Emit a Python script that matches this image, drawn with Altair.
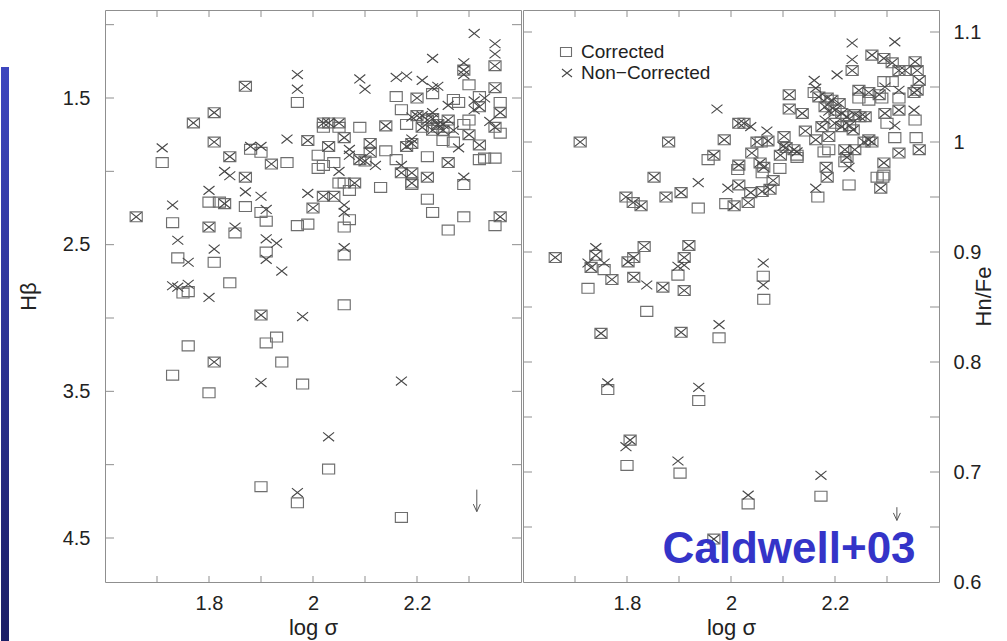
import altair as alt
import pandas as pd

# ---------------- values ----------------
# Left panel: H-beta index vs log sigma  (pairs: log_sigma, value)
hb_both = [
    (2.35, 1.28), (2.29, 1.31), (1.87, 1.42), (1.81, 1.60), (1.77, 1.67), (1.81, 1.80),
    (1.84, 1.90), (1.92, 1.95), (1.99, 1.79), (1.87, 2.04), (1.83, 2.22), (1.66, 2.31),
    (1.80, 2.38), (1.90, 2.98), (1.81, 3.30),
    (2.02, 1.67), (2.03, 1.67), (2.05, 1.67), (2.06, 1.77), (2.03, 1.83), (2.11, 1.81),
    (2.11, 1.87), (2.10, 1.93), (2.09, 1.92), (2.08, 2.08), (2.02, 2.17), (2.04, 2.17), (2.00, 2.25),
    (2.20, 1.50), (2.14, 1.69), (2.18, 1.83), (2.19, 1.81), (2.17, 2.01), (2.19, 2.01),
    (2.22, 2.04), (2.19, 2.08), (2.26, 1.94), (2.32, 1.82), (2.30, 1.75), (2.36, 1.60),
    (2.35, 1.70), (2.32, 1.56), (2.35, 1.43), (2.36, 2.31),
    (2.20, 1.62), (2.22, 1.65), (2.23, 1.64), (2.24, 1.68), (2.25, 1.72), (2.23, 1.72),
    (2.21, 1.70), (2.26, 1.65),
]
hb_corrected_only = [
    (1.97, 1.53), (1.71, 1.94), (1.88, 1.85), (1.90, 1.87), (1.95, 1.94), (1.80, 2.21),
    (1.82, 2.21), (1.87, 2.24), (1.90, 2.28), (1.73, 2.35), (1.91, 2.34), (1.85, 2.42),
    (1.74, 2.59), (1.81, 2.62), (1.91, 2.55), (1.84, 2.76), (1.75, 2.83), (1.76, 2.82),
    (2.02, 1.70), (2.05, 1.70), (2.09, 1.70), (2.01, 1.89), (2.02, 1.96), (2.01, 1.98),
    (2.14, 1.86), (2.04, 1.94), (2.05, 2.08), (2.06, 2.08), (2.07, 2.13), (2.13, 2.11),
    (2.07, 2.33), (2.06, 2.38), (1.97, 2.37), (1.99, 2.36), (2.06, 2.57), (2.06, 2.91),
    (2.16, 1.49), (2.23, 1.47), (2.17, 1.58), (2.18, 1.68), (2.16, 1.92), (2.19, 2.09),
    (2.22, 2.19), (2.23, 2.28), (2.26, 2.40), (2.29, 2.31), (2.29, 2.09), (2.22, 1.90),
    (2.32, 1.92), (2.33, 1.91), (2.35, 1.91), (2.29, 1.68), (2.30, 1.65), (2.36, 1.74),
    (2.36, 1.53), (2.30, 1.41), (2.32, 1.49), (2.27, 1.51), (2.28, 1.53), (2.35, 2.37),
    (2.25, 1.79), (2.27, 1.80), (2.24, 1.70), (2.26, 1.70),
    (1.76, 3.19), (1.91, 3.17), (1.93, 3.13), (1.94, 3.30), (1.73, 3.39), (1.98, 3.45),
    (1.80, 3.51), (2.03, 4.03), (1.90, 4.15), (1.97, 4.26), (2.17, 4.36),
]
hb_noncorrected_only = [
    (2.31, 1.06), (2.35, 1.13), (2.35, 1.20), (2.23, 1.23), (2.29, 1.26), (2.29, 1.34),
    (1.97, 1.34), (1.97, 1.44), (1.71, 1.84), (1.88, 1.83), (1.90, 1.83), (1.95, 1.78),
    (1.83, 2.00), (1.84, 2.03), (1.80, 2.13), (1.87, 2.14), (1.90, 2.17), (1.73, 2.23),
    (1.91, 2.26), (1.85, 2.38), (1.74, 2.47), (1.91, 2.46), (1.93, 2.49), (1.76, 2.62),
    (1.81, 2.53), (1.91, 2.60), (1.94, 2.68), (1.73, 2.78), (1.74, 2.79), (1.76, 2.77),
    (1.80, 2.86), (1.98, 2.99),
    (2.09, 1.37), (2.10, 1.44), (2.16, 1.36), (2.18, 1.35), (2.21, 1.38), (2.07, 1.85),
    (2.07, 1.89), (2.12, 1.96), (2.05, 2.00), (1.99, 2.15), (2.06, 2.23), (2.06, 2.28),
    (2.06, 2.52), (2.23, 1.43), (2.24, 1.42), (2.29, 2.04),
    (1.90, 3.44), (2.17, 3.43), (2.03, 3.81), (1.97, 4.19),
    (2.21, 1.62), (2.23, 1.60), (2.25, 1.68), (2.19, 1.78), (2.27, 1.72), (2.31, 1.58),
    (2.34, 1.66), (2.33, 1.50), (2.26, 1.55), (2.19, 1.63), (2.17, 1.96), (2.28, 1.84), (2.31, 1.52),
]
hb_upper_limit = [(2.315, 4.17, 4.32)]   # log_sigma, arrow top, arrow tip

# Right panel: Hn/Fe vs log sigma
hn_both = [
    (1.710, 1.000), (1.880, 1.000), (1.852, 0.968),
    (1.798, 0.950), (1.812, 0.945), (1.827, 0.942), (1.875, 0.950), (1.904, 0.954),
    (1.967, 0.988), (1.987, 1.002), (2.015, 1.017), (2.025, 1.017),
    (2.006, 0.942), (2.033, 0.945), (2.038, 0.954), (2.015, 0.979), (2.015, 0.961),
    (2.060, 0.955), (2.075, 0.957), (2.081, 0.965), (2.056, 0.981), (2.063, 0.977),
    (2.040, 0.990), (2.050, 1.000), (2.071, 1.001), (2.095, 0.988), (2.106, 0.995),
    (2.102, 1.005), (2.121, 0.993),
    (2.112, 1.043), (2.112, 1.030), (2.137, 1.026), (2.143, 1.010), (2.163, 1.002),
    (2.175, 1.014), (2.188, 1.005), (2.183, 0.977), (2.185, 0.968),
    (2.233, 1.065), (2.271, 1.079), (2.294, 1.076), (2.310, 1.072), (2.323, 1.065), (2.335, 1.065),
    (2.354, 1.073), (2.358, 1.065), (2.362, 1.056), (2.358, 1.047),
    (2.169, 1.041), (2.185, 1.040), (2.194, 1.038), (2.208, 1.035), (2.200, 1.029), (2.213, 1.026),
    (2.223, 1.023), (2.238, 1.025), (2.248, 1.023), (2.258, 1.023), (2.181, 1.032),
    (2.246, 1.047), (2.265, 1.045), (2.285, 1.043),
    (2.296, 1.026), (2.323, 1.029), (2.352, 1.045),
    (2.323, 0.990), (2.362, 0.993), (2.294, 0.981), (2.288, 0.958),
    (2.219, 0.993), (2.223, 0.986), (2.238, 0.993), (2.256, 1.000), (2.265, 1.002), (2.271, 1.000),
    (2.200, 1.017), (2.213, 1.014), (2.228, 1.015), (2.235, 1.011),
    (1.662, 0.895), (1.740, 0.897), (1.731, 0.886), (1.771, 0.875), (1.802, 0.891), (1.813, 0.895),
    (1.833, 0.905), (1.813, 0.877), (1.869, 0.868), (1.910, 0.865), (1.919, 0.906), (1.910, 0.895),
    (1.750, 0.826), (1.904, 0.827), (1.806, 0.729), (1.967, 0.639),
]
hn_corrected_only = [
    (1.937, 0.940), (1.956, 0.984), (1.990, 0.944), (2.013, 0.975), (2.094, 0.976), (2.127, 0.988),
    (2.160, 1.045), (2.167, 0.950), (2.227, 0.961), (2.281, 0.968), (2.292, 0.968), (2.294, 1.055),
    (2.310, 1.055), (2.246, 1.040), (2.265, 1.038), (2.290, 1.040), (2.323, 1.040), (2.354, 1.020),
    (2.300, 1.017), (2.315, 1.004), (2.356, 1.004), (2.219, 0.982), (2.127, 0.986), (2.060, 0.972),
    (2.058, 1.000), (2.294, 0.970), (2.179, 0.991), (2.188, 0.993),
    (1.725, 0.867), (1.756, 0.884), (1.838, 0.846), (1.898, 0.879), (2.062, 0.878), (2.063, 0.857),
    (1.977, 0.822), (1.763, 0.775), (1.938, 0.765), (1.800, 0.706), (1.902, 0.699), (2.033, 0.671),
    (2.173, 0.678),
]
hn_noncorrected_only = [
    (1.973, 1.030), (1.937, 0.963), (2.038, 1.014), (1.994, 0.958), (2.069, 1.010), (2.127, 0.991),
    (2.163, 0.958), (2.160, 1.056), (2.163, 1.049), (2.204, 1.061), (2.233, 1.090), (2.233, 1.075),
    (2.315, 1.091), (2.296, 1.050), (2.323, 1.047), (2.352, 1.029), (2.315, 1.015), (2.227, 0.977),
    (2.181, 1.020), (2.188, 1.028), (2.100, 0.996),
    (1.740, 0.904), (1.725, 0.890), (1.756, 0.890), (1.838, 0.870), (1.898, 0.887), (1.910, 0.888),
    (2.062, 0.890), (2.062, 0.870),
    (1.977, 0.834), (1.763, 0.781), (1.938, 0.777), (1.798, 0.723), (1.898, 0.710), (2.033, 0.679),
    (2.173, 0.697),
]
hn_upper_limit = [(2.319, 0.668, 0.656)]

x_ticks = [1.7, 1.8, 1.9, 2.0, 2.1, 2.2, 2.3]
x_labels = [1.8, 2.0, 2.2]
hb_ticks = [1.0, 1.5, 2.0, 2.5, 3.0, 3.5, 4.0, 4.5]
hb_labels = [1.5, 2.5, 3.5, 4.5]
hn_ticks = [0.65, 0.7, 0.75, 0.8, 0.85, 0.9, 0.95, 1.0, 1.05, 1.1]
hn_labels = [0.6, 0.7, 0.8, 0.9, 1.0, 1.1]
legend_labels = ["Corrected", "Non\u2212Corrected"]
credit = ["Caldwell+03"]

# ---------------- style ----------------
FONT = "Liberation Sans"
TXT = "#222222"
FRAME = "#8f8f8f"
SQ_COL = "#6e6e6e"
X_COL = "#474747"
SQ = "M-1.1,-0.9L1.1,-0.9L1.1,0.9L-1.1,0.9Z"
XS = "M-1,-0.8L1,0.8M1,-0.8L-1,0.8"
HEAD = "M-1.4,-3L0,0L1.4,-3"
W, H = 416, 572
MS = 121

xscale = alt.Scale(domain=[1.6, 2.4], nice=False, zero=False)
hbscale = alt.Scale(domain=[0.9, 4.8], reverse=True, nice=False, zero=False)
hnscale = alt.Scale(domain=[0.6, 1.12], nice=False, zero=False)

x_axis = alt.Axis(orient="bottom", values=x_labels, format="~g", ticks=False, tickSize=0, domain=False,
                  grid=False, labelFont=FONT, labelFontSize=20, labelColor=TXT, labelPadding=11,
                  title="log σ", titleFont=FONT, titleFontSize=22, titleFontWeight="normal",
                  titleColor=TXT, titlePadding=4)
hb_axis = alt.Axis(orient="left", values=hb_labels, format=".1f", ticks=False, tickSize=0, domain=False,
                   grid=False, labelFont=FONT, labelFontSize=20, labelColor=TXT, labelPadding=15,
                   title="Hβ", titleFont=FONT, titleFontSize=22, titleFontWeight="normal",
                   titleColor=TXT, titlePadding=22)
hn_axis = alt.Axis(orient="right", values=hn_labels, format="~g", ticks=False, tickSize=0, domain=False,
                   grid=False, labelFont=FONT, labelFontSize=20, labelColor=TXT, labelPadding=14,
                   title="Hn/Fe", titleFont=FONT, titleFontSize=22, titleFontWeight="normal",
                   titleColor=TXT, titlePadding=15, titleAngle=270)


def to_df(pairs):
    return pd.DataFrame(pairs, columns=["logsig", "val"])


def scatter(pairs, yscale, yaxis, shape, color):
    return alt.Chart(to_df(pairs)).mark_point(
        shape=shape, filled=False, size=MS, color=color, strokeWidth=1.15, opacity=1
    ).encode(
        x=alt.X("logsig:Q", scale=xscale, axis=x_axis),
        y=alt.Y("val:Q", scale=yscale, axis=yaxis),
    )


def tick_layers(yscale, yaxis, yticks):
    xt = pd.DataFrame({"logsig": x_ticks})
    yt = pd.DataFrame({"val": yticks})
    base_x = alt.Chart(xt).mark_rule(color=FRAME, strokeWidth=1)
    base_y = alt.Chart(yt).mark_rule(color=FRAME, strokeWidth=1)
    top = base_x.encode(x=alt.X("logsig:Q", scale=xscale, axis=x_axis), y=alt.value(0), y2=alt.value(7))
    bot = base_x.encode(x=alt.X("logsig:Q", scale=xscale, axis=x_axis), y=alt.value(H - 6), y2=alt.value(H))
    lft = base_y.encode(y=alt.Y("val:Q", scale=yscale, axis=yaxis), x=alt.value(0), x2=alt.value(9))
    rgt = base_y.encode(y=alt.Y("val:Q", scale=yscale, axis=yaxis), x=alt.value(W - 9), x2=alt.value(W))
    return [top, bot, lft, rgt]


def arrow_layers(limits, yscale, yaxis):
    df = pd.DataFrame(limits, columns=["logsig", "val", "val_tip"])
    shaft = alt.Chart(df).mark_rule(color="#555555", strokeWidth=1).encode(
        x=alt.X("logsig:Q", scale=xscale, axis=x_axis),
        y=alt.Y("val:Q", scale=yscale, axis=yaxis), y2="val_tip:Q")
    head = alt.Chart(df).mark_point(shape=HEAD, filled=False, size=25, color="#555555",
                                    strokeWidth=1, opacity=1).encode(
        x=alt.X("logsig:Q", scale=xscale, axis=x_axis),
        y=alt.Y("val_tip:Q", scale=yscale, axis=yaxis))
    return [shaft, head]


# ---------------- left panel ----------------
strip = alt.Chart(pd.DataFrame({"a": [0]})).mark_rect(
    color=alt.Gradient(gradient="linear",
                       stops=[alt.GradientStop(color="#3d46be", offset=0),
                              alt.GradientStop(color="#1b1e66", offset=1)],
                       x1=0, x2=0, y1=0, y2=1)
).encode(x=alt.value(-104), x2=alt.value(-96), y=alt.value(57), y2=alt.value(631))

left = alt.layer(
    scatter(hb_both + hb_corrected_only, hbscale, hb_axis, SQ, SQ_COL),
    scatter(hb_both + hb_noncorrected_only, hbscale, hb_axis, XS, X_COL),
    *tick_layers(hbscale, hb_axis, hb_ticks),
    *arrow_layers(hb_upper_limit, hbscale, hb_axis),
    strip,
).properties(width=W, height=H)

# ---------------- right panel ----------------
leg_df = pd.DataFrame({"label": legend_labels, "row": [0, 1]})
leg_sq = alt.Chart(leg_df).transform_filter(alt.datum.row == 0).mark_point(
    shape=SQ, filled=False, size=100, color=SQ_COL, strokeWidth=1.1, opacity=1
).encode(x=alt.value(43), y=alt.value(42))
leg_x = alt.Chart(leg_df).transform_filter(alt.datum.row == 1).mark_point(
    shape=XS, filled=False, size=100, color=X_COL, strokeWidth=1.1, opacity=1
).encode(x=alt.value(44), y=alt.value(63))
leg_t0 = alt.Chart(leg_df).transform_filter(alt.datum.row == 0).mark_text(
    align="left", baseline="alphabetic", font=FONT, fontSize=19, color=TXT
).encode(text="label:N", x=alt.value(58), y=alt.value(48))
leg_t1 = alt.Chart(leg_df).transform_filter(alt.datum.row == 1).mark_text(
    align="left", baseline="alphabetic", font=FONT, fontSize=19, color=TXT
).encode(text="label:N", x=alt.value(58), y=alt.value(69))

credit_text = alt.Chart(pd.DataFrame({"t": credit})).mark_text(
    font=FONT, fontSize=44, fontWeight="bold", color="#3434c8", align="center", baseline="alphabetic"
).encode(text="t:N", x=alt.value(266), y=alt.value(553))

right = alt.layer(
    scatter(hn_both + hn_corrected_only, hnscale, hn_axis, SQ, SQ_COL),
    scatter(hn_both + hn_noncorrected_only, hnscale, hn_axis, XS, X_COL),
    *tick_layers(hnscale, hn_axis, hn_ticks),
    *arrow_layers(hn_upper_limit, hnscale, hn_axis),
    leg_sq, leg_x, leg_t0, leg_t1, credit_text,
).properties(width=W, height=H)

chart = alt.hconcat(left, right, spacing=0).properties(
    padding={"left": 0, "top": 9, "right": 0, "bottom": 0},
    background="white",
).configure_view(stroke=FRAME, strokeWidth=1)

chart.save("out.html", embed_options={"renderer": "svg", "actions": False})
